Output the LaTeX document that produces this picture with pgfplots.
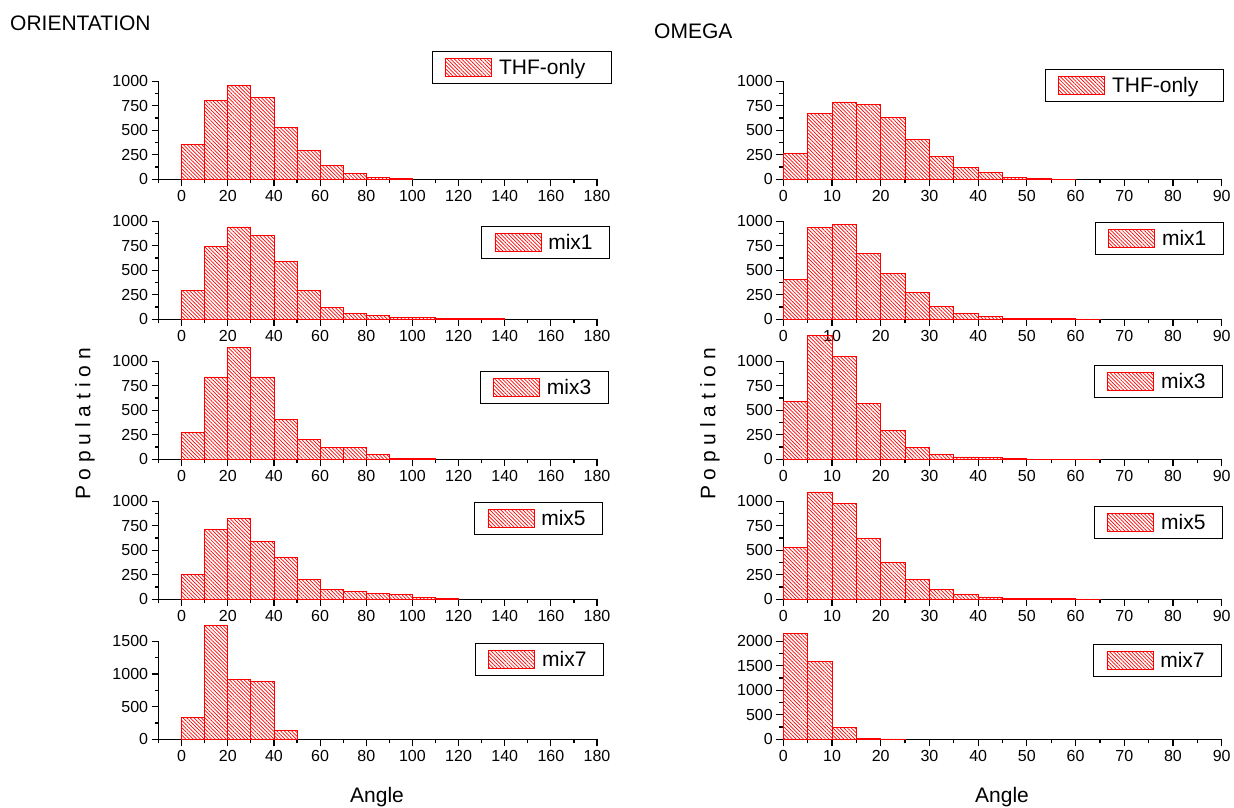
\documentclass[border=0pt]{standalone}
\usepackage{fontspec}
\setmainfont{Liberation Sans}
\usepackage{pgfplots}
\pgfplotsset{compat=1.18}
\usetikzlibrary{patterns.meta}

% diagonal red hatching used for every histogram bar
\tikzset{hatch/.style={pattern={Lines[angle=-45, distance=2.6pt, line width=0.7pt]}, pattern color=red}}

\pgfplotsset{
  hist/.style={
    scale only axis, width=438.4pt, height=98pt,
    axis lines*=left, axis line style={line width=1.2pt,-},
    tick style={line width=1.2pt, black},
    tick align=outside, major tick length=7pt, minor tick length=4pt,
    clip=false, ymin=0, scaled ticks=false,
    /pgf/number format/assume math mode=true,
    /pgf/number format/1000 sep={},
    ticklabel style={font=\fontsize{16}{18}\selectfont},
    legend cell align=left,
    legend style={anchor=north east, draw=black, line width=1pt, fill=white,
      font=\fontsize{21}{24}\selectfont, inner xsep=13pt, inner ysep=6.5pt,
      nodes={inner sep=0pt},
      /tikz/every odd column/.append style={column sep=7pt}},
    legend image code/.code={\draw[draw=red, line width=0.8pt, hatch] (0pt,-9pt) rectangle (46pt,9pt);},
  },
  angle/.style={hist, xmin=-10, xmax=180, xtick={0,20,...,180}, minor xtick={-10,10,...,170}},
  omega/.style={hist, xmin=0, xmax=90, xtick={0,10,...,90}, minor xtick={5,15,...,85}},
  k1/.style={ymax=1000, ytick={0,250,...,1000}, minor ytick={125,375,625,875}},
  bars/.style={ybar interval, draw=red, line width=0.8pt, hatch},
}

\begin{document}
\begin{tikzpicture}
\useasboundingbox (0pt,0pt) rectangle (1234pt,-807pt);

% ---------------- ORIENTATION (10 degree bins) ----------------
\begin{axis}[angle, k1, at={(158.6pt,-179.3pt)}, anchor=south west,
  legend style={at={(1.034,1.309)}}]
\addplot[bars] coordinates {(0,352) (10,803) (20,957) (30,831) (40,526) (50,290) (60,137) (70,58) (80,20) (90,10) (100,0)};
\addlegendentry{THF-only\rule{13pt}{0pt}}
\end{axis}

\begin{axis}[angle, k1, at={(158.6pt,-319.3pt)}, anchor=south west,
  legend style={at={(1.030,0.952)}}]
\addplot[bars] coordinates {(0,298) (10,745) (20,942) (30,854) (40,590) (50,291) (60,122) (70,61) (80,37) (90,16) (100,20) (110,10) (120,7) (130,7) (140,0)};
\addlegendentry{mix1\rule{4pt}{0pt}}
\end{axis}

\begin{axis}[angle, k1, at={(158.6pt,-459.3pt)}, anchor=south west,
  legend style={at={(1.027,0.901)}}]
\addplot[bars] coordinates {(0,271) (10,840) (20,1145) (30,840) (40,407) (50,203) (60,122) (70,122) (80,47) (90,10) (100,5) (110,0)};
\addlegendentry{mix3\rule{4pt}{0pt}}
\end{axis}

\begin{axis}[angle, k1, at={(158.6pt,-599.3pt)}, anchor=south west,
  legend style={at={(1.014,0.993)}}]
\addplot[bars] coordinates {(0,253) (10,713) (20,828) (30,591) (40,432) (50,206) (60,97) (70,84) (80,61) (90,54) (100,16) (110,7) (120,0)};
\addlegendentry{mix5\rule{4pt}{0pt}}
\end{axis}

\begin{axis}[angle, at={(158.6pt,-739.3pt)}, anchor=south west,
  ymax=1500, ytick={0,500,1000,1500}, minor ytick={250,750,1250},
  legend style={at={(1.016,0.983)}}]
\addplot[bars] coordinates {(0,331) (10,1748) (20,910) (30,889) (40,137) (50,0)};
\addlegendentry{mix7\rule{4pt}{0pt}}
\end{axis}

% ---------------- OMEGA (5 degree bins) ----------------
\begin{axis}[omega, k1, at={(783.3pt,-179.3pt)}, anchor=south west,
  legend style={at={(1.005,1.126)}}]
\addplot[bars] coordinates {(0,262) (5,676) (10,789) (15,762) (20,635) (25,406) (30,232) (35,119) (40,68) (45,20) (50,8) (55,2) (60,0)};
\addlegendentry{THF-only\rule{12pt}{0pt}}
\end{axis}

\begin{axis}[omega, k1, at={(783.3pt,-319.3pt)}, anchor=south west,
  legend style={at={(1.005,0.993)}}]
\addplot[bars] coordinates {(0,403) (5,936) (10,966) (15,674) (20,468) (25,271) (30,128) (35,61) (40,27) (45,10) (50,7) (55,5) (60,2) (65,0)};
\addlegendentry{mix1\rule{4pt}{0pt}}
\end{axis}

\begin{axis}[omega, k1, at={(783.3pt,-459.3pt)}, anchor=south west,
  legend style={at={(1.003,0.962)}}]
\addplot[bars] coordinates {(0,590) (5,1261) (10,1048) (15,567) (20,298) (25,119) (30,51) (35,24) (40,20) (45,7) (50,3) (55,3) (60,3) (65,0)};
\addlegendentry{mix3\rule{4pt}{0pt}}
\end{axis}

\begin{axis}[omega, k1, at={(783.3pt,-599.3pt)}, anchor=south west,
  legend style={at={(1.003,0.952)}}]
\addplot[bars] coordinates {(0,532) (5,1096) (10,980) (15,624) (20,380) (25,200) (30,98) (35,47) (40,24) (45,10) (50,7) (55,5) (60,3) (65,0)};
\addlegendentry{mix5\rule{4pt}{0pt}}
\end{axis}

\begin{axis}[omega, at={(783.3pt,-739.3pt)}, anchor=south west,
  ymax=2000, ytick={0,500,...,2000}, minor ytick={250,750,1250,1750},
  legend style={at={(1.001,0.972)}}]
\addplot[bars] coordinates {(0,2152) (5,1590) (10,246) (15,20) (20,8) (25,0)};
\addlegendentry{mix7\rule{4pt}{0pt}}
\end{axis}

% ---------------- titles and shared axis labels ----------------
\begin{scope}[every node/.style={inner sep=0pt, font=\fontsize{21}{24}\selectfont}]
\node[anchor=base west] at (10pt,-30pt) {ORIENTATION};
\node[anchor=base west] at (654pt,-38pt) {OMEGA};
\node[anchor=base] at (377pt,-802pt) {Angle};
\node[anchor=base] at (1002pt,-802pt) {Angle};
\node[rotate=90] at (85pt,-424pt) {P o p u l a t i o n};
\node[rotate=90] at (710pt,-424pt) {P o p u l a t i o n};
\end{scope}
\end{tikzpicture}
\end{document}
